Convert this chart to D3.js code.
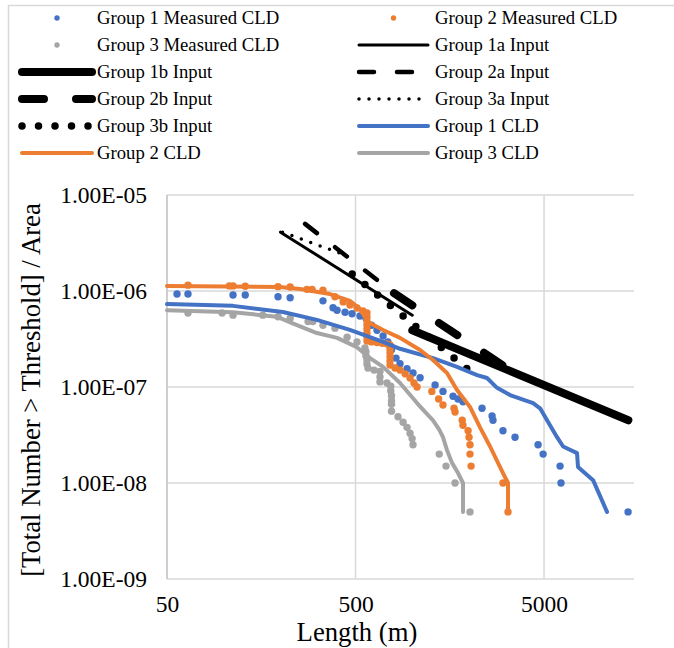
<!DOCTYPE html>
<html>
<head>
<meta charset="utf-8">
<script src="https://cdn.jsdelivr.net/npm/d3@7"></script>
<style>
  body { margin: 0; background: #fff; }
  svg { display: block; }
</style>
</head>
<body>
<svg id="chart"></svg>
<script>
// axis ticks
const xTicks = [50, 500, 5000]
const yTicks = [1e-5, 1e-6, 1e-7, 1e-8, 1e-9]

// measured CLD points [length m, number/area]
const group1Measured = [
  [56.5, 9.3e-7], [64.6, 9.3e-7], [112, 9.1e-7], [130, 9.1e-7], [194, 8.7e-7], [225, 8.5e-7],
  [336, 7.9e-7], [380, 6.7e-7], [399, 6.3e-7], [440, 6e-7], [479, 5.8e-7], [528, 5.5e-7],
  [568, 5.2e-7], [608, 4.4e-7], [650, 3.9e-7], [700, 3.4e-7], [742, 2.95e-7], [776, 2.45e-7],
  [820, 2e-7], [861, 1.75e-7], [938, 1.55e-7], [1009, 1.4e-7], [1100, 1.25e-7],
  [1321, 1.05e-7], [1455, 9e-8], [1645, 8e-8], [1749, 7.5e-8], [1858, 7e-8], [2344, 6e-8],
  [2650, 5e-8], [2680, 4.5e-8], [3028, 3.5e-8], [3508, 3e-8], [4648, 2.5e-8], [4943, 2e-8],
  [6080, 1.5e-8], [6150, 1e-8], [13950, 5e-9]
]
const group2Measured = [
  [64.6, 1.15e-6], [107, 1.13e-6], [112, 1.13e-6], [130, 1.12e-6], [194, 1.11e-6], [225, 1.1e-6],
  [276, 1.04e-6], [294, 1.04e-6], [336, 1.02e-6], [389, 8.7e-7], [430, 7.7e-7], [467, 7.15e-7],
  [509, 6.65e-7], [548, 6.2e-7], [575, 5.9e-7], [575, 5.36e-7], [575, 4.87e-7], [575, 4.42e-7],
  [575, 4.02e-7], [575, 3.65e-7], [575, 3.32e-7], [575, 3.01e-7], [608, 2.95e-7], [650, 2.9e-7],
  [694, 2.85e-7], [735, 2.8e-7], [762, 2.74e-7], [762, 2.49e-7], [762, 2.27e-7], [762, 2.06e-7],
  [762, 1.87e-7], [762, 1.69e-7], [810, 1.58e-7], [861, 1.5e-7], [916, 1.37e-7], [973, 1.24e-7],
  [1021, 1.1e-7], [1060, 1e-7], [1270, 9e-8], [1380, 7.5e-8], [1455, 6.5e-8], [1665, 6e-8],
  [1686, 5.5e-8], [1840, 4.5e-8], [1858, 4e-8], [1977, 3.5e-8], [2000, 3e-8], [2024, 2.5e-8],
  [2024, 2e-8], [2051, 1.5e-8], [3028, 1e-8], [3220, 5e-9]
]
const group3Measured = [
  [64.6, 5.9e-7], [98, 5.9e-7], [112, 5.6e-7], [161, 5.6e-7], [194, 5.4e-7], [225, 5.2e-7],
  [280, 4.8e-7], [297, 4.8e-7], [336, 4.4e-7], [389, 4.1e-7], [451, 3.3e-7], [509, 2.95e-7],
  [561, 2.55e-7], [568, 2.33e-7], [568, 2.1e-7], [575, 1.91e-7], [575, 1.74e-7], [582, 1.58e-7],
  [627, 1.5e-7], [674, 1.45e-7], [674, 1.27e-7], [674, 1.13e-7], [734, 1.1e-7], [769, 1.02e-7],
  [769, 9.1e-8], [776, 8.1e-8], [776, 7.2e-8], [776, 6.6e-8], [776, 5.6e-8], [840, 4.9e-8],
  [894, 4.3e-8], [938, 3.8e-8], [973, 3.3e-8], [998, 2.9e-8], [1009, 2.5e-8], [1390, 2e-8],
  [1510, 1.5e-8], [1686, 1e-8], [2024, 5e-9]
]

// input power-law segments
const group1aInput = [[200, 4.1e-6], [1000, 5.6e-7]]
const group1bInput = [[1000, 3.9e-7], [14000, 4.5e-8]]
const group2aInput = [[270, 5e-6], [800, 9.5e-7]]
const group2bInput = [[800, 9.5e-7], [3300, 1.5e-7]]
const group3aInput = [[205, 4.1e-6], [420, 2.45e-6]]
const group3bInput = [[480, 1.5e-6], [1950, 1.55e-7]]

// modelled CLD curves
const group1Cld = [
  [50, 7.3e-7], [112, 7e-7], [206, 6.05e-7], [312, 5e-7], [467, 3.93e-7], [700, 2.95e-7],
  [861, 2.5e-7], [1288, 2e-7], [1727, 1.62e-7], [2208, 1.33e-7], [2492, 1.24e-7], [2816, 9.8e-8],
  [3300, 8.25e-8], [4374, 6.8e-8], [4763, 6e-8], [5187, 4.5e-8], [5860, 3e-8], [6310, 2.4e-8],
  [7480, 2.05e-8], [7570, 1.47e-8], [9100, 1.07e-8], [10790, 5e-9]
]
const group2Cld = [
  [50, 1.13e-6], [198, 1.1e-6], [254, 1.05e-6], [366, 9.3e-7], [467, 7.9e-7], [528, 6.5e-7],
  [582, 4.75e-7], [700, 3.93e-7], [861, 3.25e-7], [1100, 2.43e-7], [1288, 1.91e-7],
  [1528, 1.4e-7], [1727, 9.3e-8], [2024, 6.2e-8], [2287, 3.8e-8], [2587, 2.4e-8],
  [3028, 1.27e-8], [3220, 1e-8], [3220, 5e-9]
]
const group3Cld = [
  [50, 6.3e-7], [112, 6e-7], [191, 5.4e-7], [232, 4.6e-7], [312, 3.65e-7], [399, 3.25e-7],
  [509, 2.6e-7], [597, 2e-7], [700, 1.62e-7], [861, 1.1e-7], [1060, 6.8e-8], [1169, 5.5e-8],
  [1288, 4.5e-8], [1390, 3.6e-8], [1455, 3e-8], [1528, 2.2e-8], [1625, 1.62e-8], [1749, 1.27e-8],
  [1858, 1e-8], [1858, 5e-9]
]

const blue = '#4472C4', orange = '#ED7D31', gray = '#A5A5A5', black = '#000000'
const font = '"Liberation Serif", "Times New Roman", serif'

const series = [
  { name: 'Group 1 Measured CLD', data: group1Measured, type: 'dot', color: blue },
  { name: 'Group 2 Measured CLD', data: group2Measured, type: 'dot', color: orange },
  { name: 'Group 3 Measured CLD', data: group3Measured, type: 'dot', color: gray },
  { name: 'Group 1a Input', data: group1aInput, type: 'line', color: black, w: 3 },
  { name: 'Group 1b Input', data: group1bInput, type: 'line', color: black, w: 8 },
  { name: 'Group 2a Input', data: group2aInput, type: 'line', color: black, w: 4.5, dash: '15 23' },
  { name: 'Group 2b Input', data: group2bInput, type: 'line', color: black, w: 8, dash: '22 32' },
  { name: 'Group 3a Input', data: group3aInput, type: 'line', color: black, w: 3.5, dash: '0 10' },
  { name: 'Group 3b Input', data: group3bInput, type: 'line', color: black, w: 7.5, dash: '0 16.5' },
  { name: 'Group 1 CLD', data: group1Cld, type: 'line', color: blue, w: 4 },
  { name: 'Group 2 CLD', data: group2Cld, type: 'line', color: orange, w: 4 },
  { name: 'Group 3 CLD', data: group3Cld, type: 'line', color: gray, w: 4 }
]

const width = 674, height = 648
const svg = d3.select('#chart').attr('width', width).attr('height', height)
  .attr('font-family', font)

// chart border
svg.append('rect')
  .attr('x', 8.5).attr('y', 5.5).attr('width', 700).attr('height', 700)
  .attr('fill', 'none').attr('stroke', '#d9d9d9').attr('stroke-width', 1.5)

const x = d3.scaleLog().domain([50, 15000]).range([167, 634])
const y = d3.scaleLog().domain([1e-9, 1e-5]).range([579, 195])

// gridlines
svg.append('g').selectAll('line').data(yTicks).enter().append('line')
  .attr('x1', x(50)).attr('x2', x(15000))
  .attr('y1', d => y(d)).attr('y2', d => y(d))
  .attr('stroke', '#d9d9d9').attr('stroke-width', 1.5)
svg.append('g').selectAll('line').data(xTicks).enter().append('line')
  .attr('x1', d => x(d)).attr('x2', d => x(d))
  .attr('y1', y(1e-5)).attr('y2', y(1e-9))
  .attr('stroke', d => d === 50 ? '#bfbfbf' : '#d9d9d9').attr('stroke-width', 1.5)

const fmt = d => {
  const [m, e] = d.toExponential(2).split('e')
  return m + 'E' + (e[0] === '-' ? '-' : '+') + String(Math.abs(+e)).padStart(2, '0')
}

const yAxis = svg.append('g').attr('transform', `translate(${x(50)},0)`)
  .call(d3.axisLeft(y).tickValues(yTicks).tickFormat(fmt).tickSize(0).tickPadding(20))
const xAxis = svg.append('g').attr('transform', `translate(0,${y(1e-9)})`)
  .call(d3.axisBottom(x).tickValues(xTicks).tickFormat(d3.format('d')).tickSize(0).tickPadding(16))
;[yAxis, xAxis].forEach(a => {
  a.attr('font-family', font)
  a.select('.domain').remove()
  a.selectAll('text').attr('font-family', font)
    .attr('font-size', '23.5px').attr('fill', '#000')
})

// axis titles
svg.append('text')
  .attr('x', 357).attr('y', 641)
  .attr('text-anchor', 'middle').attr('font-family', font).attr('font-size', '26.7px')
  .text('Length (m)')
svg.append('text')
  .attr('transform', 'translate(40,390) rotate(-90)')
  .attr('text-anchor', 'middle').attr('font-family', font).attr('font-size', '26.7px')
  .text('[Total Number > Threshold] / Area')

// series
const line = d3.line().x(d => x(d[0])).y(d => y(d[1]))
const plot = svg.append('g')
series.forEach(s => {
  if (s.type === 'dot') {
    plot.append('g').selectAll('circle').data(s.data).enter().append('circle')
      .attr('cx', d => x(d[0])).attr('cy', d => y(d[1]))
      .attr('r', 3.7).attr('fill', s.color)
  } else {
    plot.append('path').datum(s.data)
      .attr('d', line)
      .attr('fill', 'none').attr('stroke', s.color)
      .attr('stroke-width', s.w)
      .attr('stroke-linecap', 'round').attr('stroke-linejoin', 'round')
      .attr('stroke-dasharray', s.dash || null)
  }
})

// legend, two columns
const legend = svg.append('g').attr('font-size', '18.7px').attr('font-family', font)
series.forEach((s, i) => {
  const col = i % 2, row = Math.floor(i / 2)
  const cy = 18 + row * 27
  const x0 = col ? 359 : 22, x1 = col ? 428 : 92
  const tx = col ? 435 : 97
  const g = legend.append('g')
  if (s.type === 'dot') {
    g.append('circle').attr('cx', (x0 + x1) / 2).attr('cy', cy).attr('r', 2.7).attr('fill', s.color)
  } else {
    g.append('line').attr('x1', x0).attr('x2', x1).attr('y1', cy).attr('y2', cy)
      .attr('stroke', s.color).attr('stroke-width', s.w)
      .attr('stroke-linecap', 'round')
      .attr('stroke-dasharray', s.dash || null)
  }
  g.append('text').attr('x', tx).attr('y', cy).attr('dy', '0.34em').text(s.name)
})
</script>
</body>
</html>
